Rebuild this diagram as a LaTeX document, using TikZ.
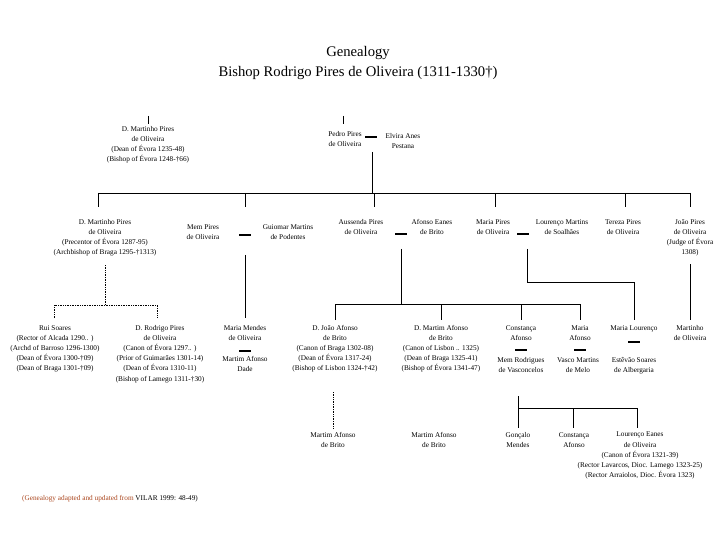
\documentclass[tikz,border=0pt]{standalone}
\usepackage{fontspec}
\setmainfont{Liberation Serif}
\definecolor{srcred}{RGB}{170,70,30}
\begin{document}
\begin{tikzpicture}[x=1bp,y=-1bp,
  ln/.style={line width=0.8bp},
  dt/.style={line width=0.8bp, dash pattern=on 0.8bp off 0.9bp},
  marr/.style={line width=2bp},
  pers/.style={font=\fontsize{7.3}{10.2}\selectfont, align=center, inner sep=0pt, anchor=north},
  ttl/.style={font=\fontsize{14.7}{19.5}\selectfont, align=center, inner sep=0pt}]
\useasboundingbox (0,0) rectangle (720,540);
% title
\node[ttl] (title) at (358,63) {Genealogy\\Bishop Rodrigo Pires de Oliveira (1311-1330†)};

% ---------- row 1
\node[pers] (martA) at (148,126) {D. Martinho Pires\\de Oliveira\\(Dean of Évora 1235-48)\\(Bishop of Évora 1248-†66)};
\node[pers] (pedro) at (345,131) {Pedro Pires\\de Oliveira};
\node[pers] (elvira) at (403,133) {Elvira Anes\\Pestana};
\coordinate (m0) at (371,137);
\draw[marr] ([xshift=-6]m0) -- ([xshift=6]m0);
\draw[ln] (148,116) -- (148,124);
\draw[ln] (343,116) -- (343,124);
\coordinate (r2bar) at (372,193);
\draw[ln] (372,152) -- (r2bar);
\draw[ln] (98,193) -- (690,193);
\foreach \x in {98,245,374,495,625,690} \draw[ln] (\x,193) -- (\x,207);

% ---------- row 2
\node[pers] (martB) at (105,219) {D. Martinho Pires\\de Oliveira\\(Precentor of Évora 1287-95)\\(Archbishop of Braga 1295-†1313)};
\node[pers] (mem) at (203,224) {Mem Pires\\de Oliveira};
\coordinate (m1) at (245,235);
\draw[marr] ([xshift=-6]m1) -- ([xshift=6]m1);
\node[pers] (guiomar) at (288,224) {Guiomar Martins\\de Podentes};
\node[pers] (aussenda) at (361,219) {Aussenda Pires\\de Oliveira};
\coordinate (m2) at (401,234);
\draw[marr] ([xshift=-6]m2) -- ([xshift=6]m2);
\node[pers] (afonsoE) at (432,219) {Afonso Eanes\\de Brito};
\node[pers] (mariaP) at (493,219) {Maria Pires\\de Oliveira};
\coordinate (m3) at (523,234);
\draw[marr] ([xshift=-6]m3) -- ([xshift=6]m3);
\node[pers] (lourM) at (562,219) {Lourenço Martins\\de Soalhães};
\node[pers] (tereza) at (623,219) {Tereza Pires\\de Oliveira};
\node[pers] (joaoP) at (690,219) {João Pires\\de Oliveira\\(Judge of Évora\\1308)};

% connectors row 2 -> row 3
\draw[dt] (105,265) -- (105,305);
\draw[dt] (54,318) -- (54,305) -- (157,305) -- (157,318);
\draw[ln] (245,255) -- (245,318);
\draw[ln] (401,249) -- (401,304);
\draw[ln] (335,320) -- (335,304) -- (580,304) -- (580,320);
\draw[ln] (441,304) -- (441,320);
\draw[ln] (521,304) -- (521,320);
\draw[ln] (527,249) -- (527,282) -- (634,282) -- (634,320);
\draw[ln] (690,264) -- (690,320);

% ---------- row 3
\node[pers] (rui) at (55,325) {Rui Soares\\(Rector of Alcada 1290.. )\\(Archd of Barroso 1296-1300)\\(Dean of Évora 1300-†09)\\(Dean of Braga 1301-†09)};
\node[pers] (rodrigo) at (160,325) {D. Rodrigo Pires\\de Oliveira\\(Canon of Évora 1297.. )\\(Prior of Guimarães 1301-14)\\(Dean of Évora 1310-11)\\(Bishop of Lamego 1311-†30)};
\node[pers] (mariaM) at (245,325) {Maria Mendes\\de Oliveira};
\coordinate (m4) at (245,351);
\draw[marr] ([xshift=-6]m4) -- ([xshift=6]m4);
\node[pers] (martimD) at (245,356) {Martim Afonso\\Dade};
\node[pers] (joaoA) at (335,325) {D. João Afonso\\de Brito\\(Canon of Braga 1302-08)\\(Dean of Évora 1317-24)\\(Bishop of Lisbon 1324-†42)};
\node[pers] (martimA) at (441,325) {D. Martim Afonso\\de Brito\\(Canon of Lisbon .. 1325)\\(Dean of Braga 1325-41)\\(Bishop of Évora 1341-47)};
\node[pers] (constA) at (521,325) {Constança\\Afonso};
\coordinate (m5) at (521,350);
\draw[marr] ([xshift=-6]m5) -- ([xshift=6]m5);
\node[pers] (memR) at (521,357) {Mem Rodrigues\\de Vasconcelos};
\node[pers] (mariaA) at (580,325) {Maria\\Afonso};
\coordinate (m6) at (580,350);
\draw[marr] ([xshift=-6]m6) -- ([xshift=6]m6);
\node[pers] (vasco) at (578,357) {Vasco Martins\\de Melo};
\node[pers] (mariaL) at (634,325) {Maria Lourenço};
\coordinate (m7) at (634,342);
\draw[marr] ([xshift=-6]m7) -- ([xshift=6]m7);
\node[pers] (estevao) at (634,357) {Estêvão Soares\\de Albergaria};
\node[pers] (martinhoO) at (690,325) {Martinho\\de Oliveira};

% connectors row 3 -> row 4
\draw[dt] (333,392) -- (333,428);
\draw[ln] (518,396) -- (518,428);
\draw[ln] (518,408) -- (637,408) -- (637,428);
\draw[ln] (573,408) -- (573,428);

% ---------- row 4
\node[pers] (martimB1) at (333,432) {Martim Afonso\\de Brito};
\node[pers] (martimB2) at (434,432) {Martim Afonso\\de Brito};
\node[pers] (goncalo) at (518,432) {Gonçalo\\Mendes};
\node[pers] (constB) at (574,432) {Constança\\Afonso};
\node[pers] (lourE) at (640,432) {Lourenço Eanes\\de Oliveira\\(Canon of Évora 1321-39)\\(Rector Lavarcos, Dioc. Lamego 1323-25)\\(Rector Arraiolos, Dioc. Évora 1323)};

% footer
\node[anchor=west, font=\fontsize{7.3}{9}\selectfont, inner sep=0pt] (src) at (22,499) {\textcolor{srcred}{(Genealogy adapted and updated from} VILAR 1999: 48-49)};
\end{tikzpicture}
\end{document}
